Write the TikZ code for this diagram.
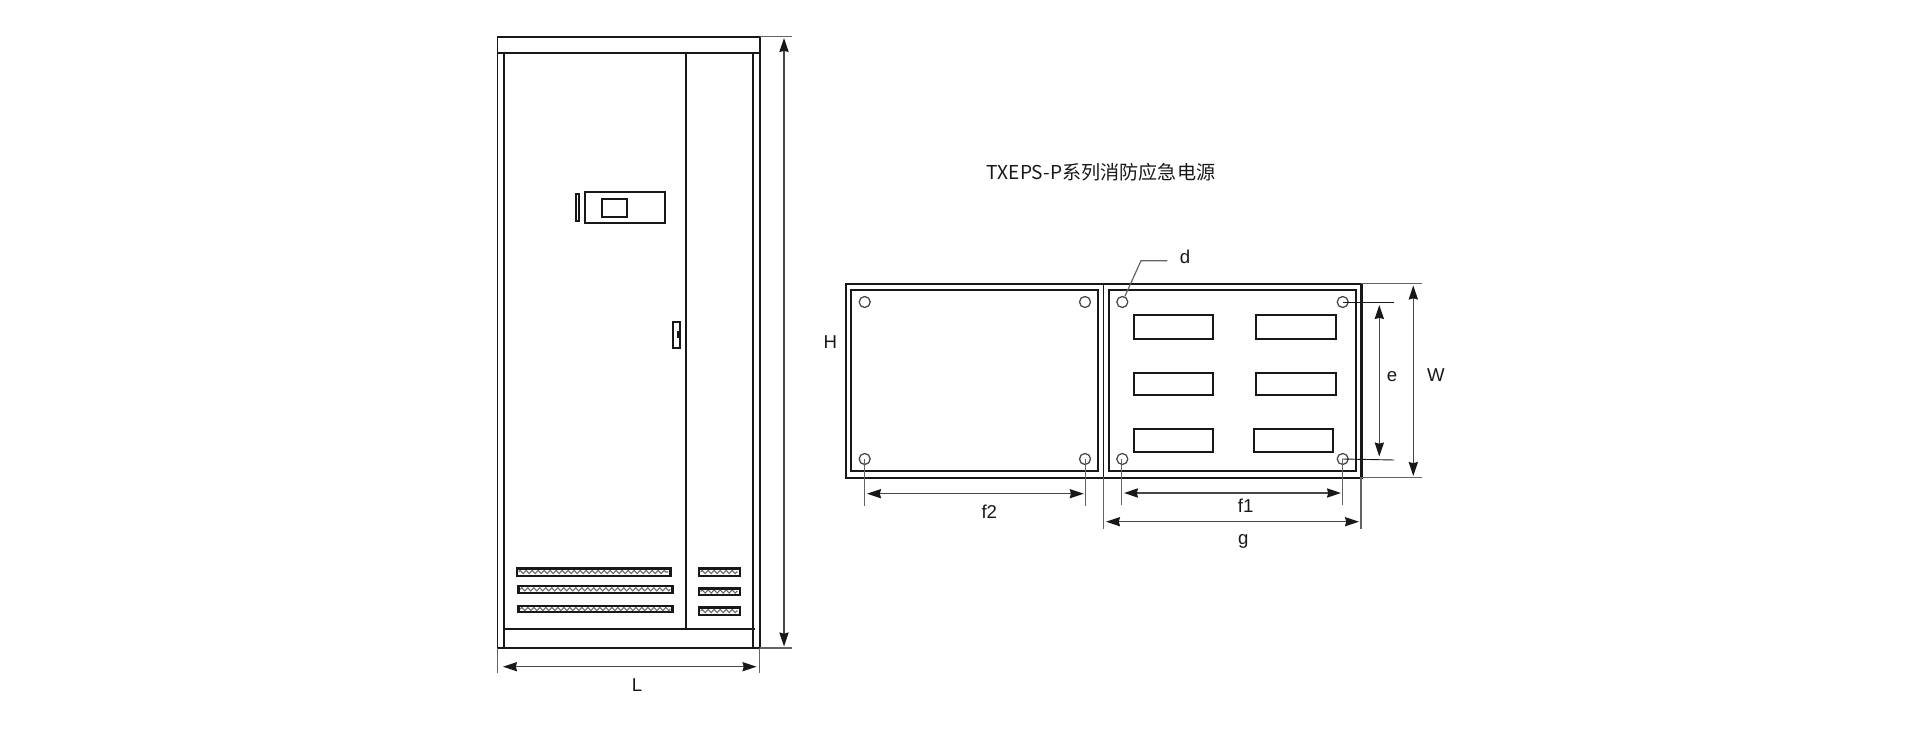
\documentclass[tikz,border=0pt]{standalone}
\usepackage{fontspec}
\setmainfont{Liberation Sans}
\newfontfamily\titlefont{Noto Sans CJK SC}
\usetikzlibrary{arrows.meta,decorations.pathmorphing}
\definecolor{inkline}{HTML}{1A1718}
\definecolor{dimgrey}{HTML}{4A4647}
\tikzset{
  outline/.style={draw=inkline,line width=3.4pt},
  thinline/.style={draw=inkline,line width=2.8pt},
  ventbox/.style={draw=inkline,line width=3.4pt},
  extline/.style={draw=dimgrey!85,line width=1.7pt},
  dimline/.style={draw=dimgrey,line width=2pt,{Stealth[length=0.7cm,width=0.46cm,inset=0.06cm,inkline]}-{Stealth[length=0.7cm,width=0.46cm,inset=0.06cm,inkline]}},
  dimtext/.style={font=\fontsize{26.5}{26.5}\selectfont,text=inkline,inner sep=0pt},
  hole/.style={circle,draw=dimgrey,line width=1.8pt,minimum size=0.55cm,inner sep=0pt},
  ventfill/.style={draw=black!60,line width=1.5pt,decorate,decoration={zigzag,segment length=0.3cm,amplitude=0.08cm}}
}
\begin{document}
\begin{tikzpicture}[x=0.05cm,y=-0.05cm]
\useasboundingbox (0,0) rectangle (1930,737);
% cabinet front
\draw[thinline] (497.5,36.7) rectangle (759.7,648);
\draw[outline] (497.5,36.7) -- (759.7,36.7) -- (759.7,648) -- (497.5,648);
\draw[thinline] (497.5,53.3) -- (759.7,53.3);
\draw[thinline] (503.7,53.3) -- (503.7,648);
\draw[thinline] (686.3,53.3) -- (686.3,629);
\draw[outline] (753,53.3) -- (753,648);
\draw[outline] (503.7,629) -- (755,629);
% panel and handle
\draw[thinline] (585.3,192) rectangle (665.3,223.3);
\draw[thinline] (602.3,199) rectangle (626.7,216.7);
\draw[thinline] (575.7,194.3) rectangle (579,221);
\draw[thinline] (673.3,321.7) rectangle (680,348.3);
\fill[inkline] (677,330.7) rectangle (679,338.3);
% vents
\foreach \xa/\xb/\ya/\yb in {516.7/670.3/568.3/575.7,518.3/672.3/586/592.7,518.3/672.3/606/612,
  698.7/739.7/568.3/575.7,698.7/739.7/588.3/594.7,698.7/739.7/607.3/614.7}
{
  \draw[ventfill] (\xa+2,{(\ya+\yb)/2}) -- (\xb-2,{(\ya+\yb)/2});
  \draw[ventbox] (\xa,\ya) rectangle (\xb,\yb);
}
% cabinet dimensions
\draw[extline] (759.7,36.7) -- (791.7,36.7);
\draw[extline] (759.7,648) -- (791.7,648);
\draw[dimline] (784,38) -- (784,646.5);
\draw[extline] (497.5,648) -- (497.5,673);
\draw[extline] (759.7,648) -- (759.7,673);
\draw[dimline] (503,666.7) -- (756.5,666.7);
\node[dimtext] (labelL) at (637,685) {L};
% title
\node[font=\titlefont\fontsize{27.2}{30}\selectfont,text=inkline,inner sep=0pt] (title) at (1101,172) {TXEPS-P系列消防应急电源};
% plan view
\draw[outline] (846,283.7) rectangle (1361.3,477.7);
\draw[extline,draw=inkline,line width=2.4pt] (1103.5,283.7) -- (1103.5,477.7);
\draw[thinline] (851.3,290) rectangle (1098.3,471);
\draw[thinline] (1109.3,290) rectangle (1356.3,471);
\foreach \name/\x/\y in {la/864.7/302,lb/1085/302,lc/864.7/459,ld/1085/459,ra/1122.3/302,rb/1342.7/302,rc/1122.3/459,rd/1342.7/459}
  \node[hole] (\name) at (\x,\y) {};
% slots
\foreach \xa/\xb/\ya/\yb in {1134/1213.3/314.7/339,1255.7/1335.7/314.7/339,1134/1213.3/372.7/395,
  1255.7/1335.7/372.7/395,1134/1213.3/428.7/452,1254/1333/428.7/452}
  \draw[thinline] (\xa,\ya) rectangle (\xb,\yb);
% plan dimensions
\node[dimtext] (labelH) at (830.3,342) {H};
\draw[extline] (864.7,459) -- (864.7,506);
\draw[extline] (1085.7,459) -- (1085.7,506);
\draw[dimline] (867,493.7) -- (1083.7,493.7);
\node[dimtext] (labelFtwo) at (989.3,511.5) {f2};
\draw[extline] (1121.7,459) -- (1121.7,505);
\draw[extline] (1342.7,459) -- (1342.7,505);
\draw[dimline] (1124,493) -- (1341,493);
\node[dimtext] (labelFone) at (1245.7,505.7) {f1};
\draw[extline] (1103.7,477) -- (1103.7,529.3);
\draw[extline] (1361,477) -- (1361,529.3);
\draw[dimline] (1106,521.7) -- (1359,521.7);
\node[dimtext,anchor=base] (labelG) at (1243.3,544) {g};
\draw[extline,draw=inkline,line width=1.3pt] (rb.center) -- (1394,302);
\draw[extline,draw=inkline,line width=1.3pt] (rd.center) -- (1394,460);
\draw[dimline] (1379.3,305) -- (1379.3,456.5);
\node[dimtext,anchor=base] (labelE) at (1392,381) {e};
\draw[extline] (1361,283.7) -- (1421.7,283.7);
\draw[extline] (1361,477.3) -- (1421.7,477.3);
\draw[dimline] (1413.3,285.5) -- (1413.3,476);
\node[dimtext,anchor=base] (labelW) at (1436,381) {W};
% hole leader
\draw[extline] (ra) -- (1141,260.7) -- (1167.3,260.7);
\node[dimtext,anchor=base] (labelD) at (1185,263) {d};
\end{tikzpicture}
\end{document}
